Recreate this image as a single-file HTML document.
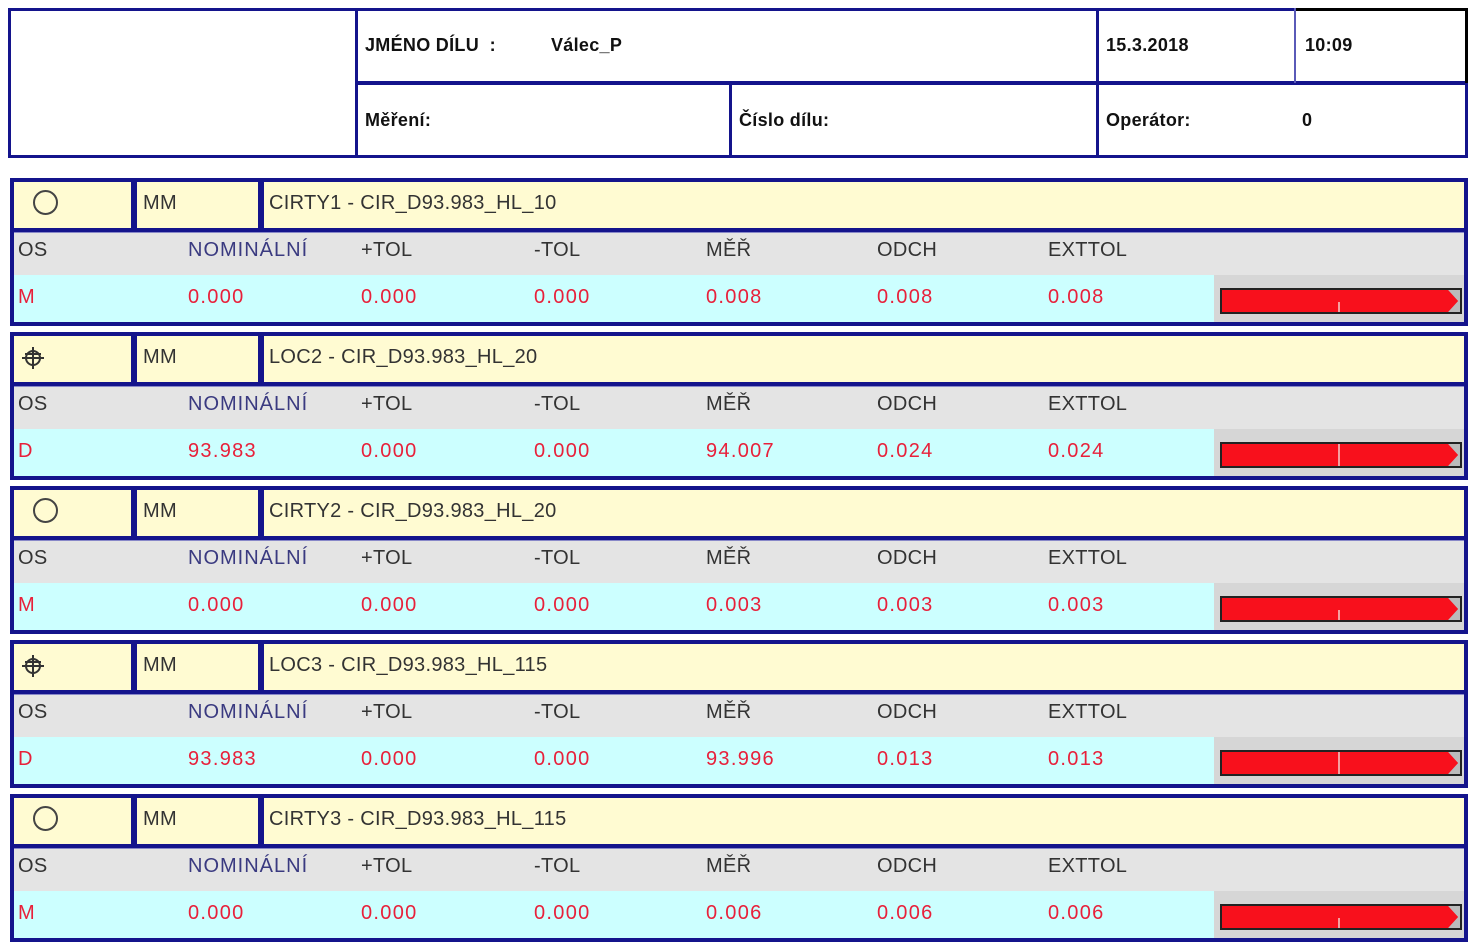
<!DOCTYPE html>
<html><head><meta charset="utf-8"><style>
body{margin:0;width:1476px;height:948px;background:#fff;position:relative;overflow:hidden;font-family:"Liberation Sans",Tahoma,sans-serif;}
div{position:absolute;box-sizing:border-box;}
.hb{font-weight:bold;font-size:18px;color:#111;letter-spacing:0.3px;white-space:nowrap;}
.n{background:#14148c;}
.t{font-size:20px;color:#333;letter-spacing:0.3px;white-space:nowrap;}
.r{font-size:20px;color:#e8203a;letter-spacing:1.3px;white-space:nowrap;}
</style></head><body>
<div style="left:8px;top:8px;width:1460px;height:150px;border:3px solid #14148c;"></div>
<div class="n" style="left:355px;top:8px;width:3px;height:150px;"></div>
<div class="n" style="left:355px;top:81px;width:1113px;height:4px;"></div>
<div class="n" style="left:729px;top:83px;width:3px;height:75px;"></div>
<div class="n" style="left:1096px;top:8px;width:3px;height:150px;"></div>
<div style="left:1294px;top:8px;width:2px;height:75px;background:#5a5ab8;"></div>
<div style="left:1296px;top:8px;width:172px;height:3px;background:#000;"></div>
<div style="left:1465px;top:8px;width:3px;height:75px;background:#000;"></div>
<div class="hb" style="left:365px;top:35px;">JMÉNO DÍLU &nbsp;: </div>
<div class="hb" style="left:551px;top:35px;">Válec_P</div>
<div class="hb" style="left:1106px;top:35px;">15.3.2018</div>
<div class="hb" style="left:1305px;top:35px;">10:09</div>
<div class="hb" style="left:365px;top:110px;">Měření:</div>
<div class="hb" style="left:739px;top:110px;">Číslo dílu:</div>
<div class="hb" style="left:1106px;top:110px;">Operátor:</div>
<div class="hb" style="left:1302px;top:110px;">0</div>

<div id="blocks"></div>
<script>
var data=[
["c","CIRTY1 - CIR_D93.983_HL_10","M","0.000","0.008","0.008","0.008"],
["l","LOC2 - CIR_D93.983_HL_20","D","93.983","94.007","0.024","0.024"],
["c","CIRTY2 - CIR_D93.983_HL_20","M","0.000","0.003","0.003","0.003"],
["l","LOC3 - CIR_D93.983_HL_115","D","93.983","93.996","0.013","0.013"],
["c","CIRTY3 - CIR_D93.983_HL_115","M","0.000","0.006","0.006","0.006"]];
var h="";
data.forEach(function(d,i){
var T=178+i*154;
h+='<div class="n" style="left:10px;top:'+T+'px;width:1458px;height:148px;"></div>';
h+='<div style="left:14px;top:'+(T+4)+'px;width:117px;height:46px;background:#fffbd2"></div>';
h+='<div style="left:137px;top:'+(T+4)+'px;width:121px;height:46px;background:#fffbd2"></div>';
h+='<div style="left:264px;top:'+(T+4)+'px;width:1200px;height:46px;background:#fffbd2"></div>';
h+='<div style="left:14px;top:'+(T+54)+'px;width:1450px;height:43px;background:#e4e4e4;border-top:1px solid #8888c8"></div>';
h+='<div style="left:14px;top:'+(T+97)+'px;width:1200px;height:47px;background:#ccffff"></div>';
h+='<div style="left:1214px;top:'+(T+97)+'px;width:250px;height:47px;background:#d6d6d6"></div>';
if(d[0]=="c") h+='<div style="left:33px;top:'+(T+12)+'px;width:25px;height:25px;border:2px solid #444;border-radius:50%"></div>';
else h+='<svg style="position:absolute;left:20px;top:'+(T+14)+'px" width="26" height="24"><circle cx="13" cy="12" r="7" fill="none" stroke="#333" stroke-width="2"/><line x1="2" y1="12" x2="24" y2="12" stroke="#333" stroke-width="2"/><line x1="13" y1="1" x2="13" y2="23" stroke="#333" stroke-width="2"/><line x1="5" y1="8" x2="21" y2="8" stroke="#333" stroke-width="2"/></svg>';
h+='<div class="t" style="left:143px;top:'+(T+14)+'px">MM</div>';
h+='<div class="t" style="left:269px;top:'+(T+14)+'px">'+d[1]+'</div>';
var cols=[18,188,361,534,706,877,1048];
var hd=["OS","NOMINÁLNÍ","+TOL","-TOL","MĚŘ","ODCH","EXTTOL"];
var vals=[d[2],d[3],"0.000","0.000",d[4],d[5],d[6]];
for(var k=0;k<7;k++){
h+='<div class="t" style="left:'+cols[k]+'px;top:'+(T+61)+'px;'+(k==1?'color:#3a3a80;letter-spacing:1px':'')+'">'+hd[k]+'</div>';
h+='<div class="r" style="left:'+cols[k]+'px;top:'+(T+108)+'px">'+vals[k]+'</div>';
}
h+='<div style="left:1220px;top:'+(T+110)+'px;width:242px;height:26px;background:#f8101c;border:2px solid #222"></div>';
h+='<div style="left:1338px;top:'+(T+(d[2]=="D"?112:124))+'px;width:2px;height:'+(d[2]=="D"?22:10)+'px;background:#f6a0a0"></div>';
h+='<svg style="position:absolute;left:1448px;top:'+(T+112)+'px" width="12" height="22"><polygon points="0,0 12,0 12,22 0,22 10,11" fill="#bbb"/><polygon points="0,0 10,11 0,22" fill="#f8101c"/></svg>';
});
document.getElementById("blocks").innerHTML=h;
</script>
</body></html>
